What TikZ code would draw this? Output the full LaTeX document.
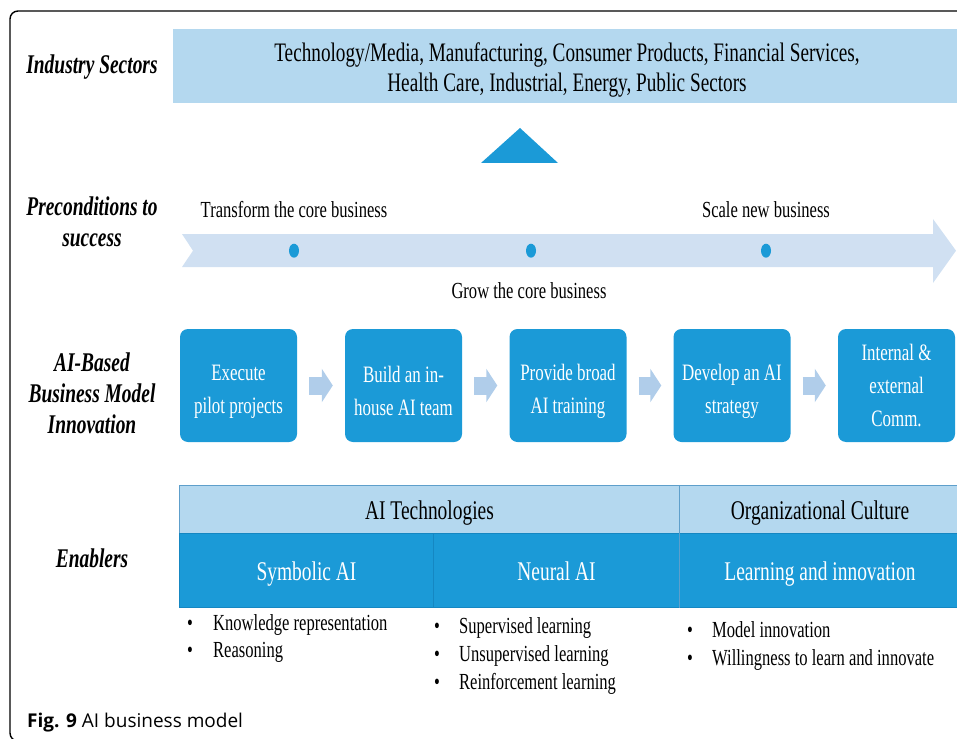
\documentclass[tikz,border=0pt]{standalone}
\usepackage{fontspec}
\newfontfamily\tms[FakeStretch=0.72]{Liberation Serif}
\newfontfamily\capfont{Open Sans}
\usetikzlibrary{arrows.meta}

\definecolor{bandblue}{HTML}{B4D8EF}
\definecolor{arrowblue}{HTML}{D0E0F2}
\definecolor{midblue}{HTML}{1B9AD7}
\definecolor{stepblue}{HTML}{B0CDEA}
\definecolor{lineblue}{HTML}{5E9FCB}
\definecolor{darkline}{HTML}{1587C2}

\tikzset{
  sidelabel/.style={font=\tms\bfseries\itshape\fontsize{27}{31}\selectfont, align=center, inner sep=0},
  sectorband/.style={fill=bandblue, minimum width=788, minimum height=74, inner sep=0,
    font=\tms\fontsize{26.7}{30}\selectfont, align=center},
  milestone/.style={font=\tms\fontsize{23}{28}\selectfont, inner sep=0},
  stepbox/.style={fill=midblue, rounded corners=8pt, minimum width=117, minimum height=113,
    text=white, font=\tms\fontsize{23.5}{33}\selectfont, align=center, inner sep=0},
  steparrow/.style={draw=stepblue, line width=18pt, shorten <=12pt, shorten >=12pt,
    -{Triangle[width=33pt,length=11pt]}},
  hdrcell/.style={fill=bandblue, draw=lineblue, line width=1pt, minimum height=48, inner sep=0,
    anchor=north west, font=\tms\fontsize{27}{30}\selectfont, text height=24pt, text depth=4pt},
  subcell/.style={fill=midblue, draw=darkline, line width=1pt, minimum height=74, inner sep=0,
    anchor=north west, text=white, font=\tms\fontsize{27}{30}\selectfont, text height=24pt, text depth=4pt},
  bulletitem/.style={anchor=west, inner sep=0, font=\tms\fontsize{23}{28}\selectfont,
    text height=16pt, text depth=6pt},
}
\newcommand{\lowerfirst}{\rule{0pt}{28pt}}

\begin{document}
\begin{tikzpicture}[x=1pt,y=-1pt]
\useasboundingbox (0,0) rectangle (957,738);
\clip (0,0) rectangle (957,738);

% frame
\draw[line width=1.4pt, rounded corners=8pt] (10,11) rectangle (990,741);

% left labels
\node[sidelabel] (lsec) at (92,67) {Industry Sectors};
\node[sidelabel] (lpre) at (92,222) {Preconditions to\\success};
\node[sidelabel] (lai)  at (92,393) {AI-Based\\Business Model\\Innovation};
\node[sidelabel] (len)  at (92,558) {Enablers};

% industry sectors band
\node[sectorband] (sectors) at (567,66) {\rule{0pt}{26pt}Technology/Media, Manufacturing, Consumer Products, Financial Services,\\Health Care, Industrial, Energy, Public Sectors};

% triangle
\fill[midblue] (481,163) -- (520,128) -- (558,163) -- cycle;

% progress arrow
\fill[arrowblue] (182,234) -- (933,234) -- (933,219) -- (956,250.7) -- (933,283) -- (933,267) -- (182,267) -- (193,250.7) -- cycle;
\fill[midblue] (294,250.7) ellipse [x radius=5, y radius=7];
\fill[midblue] (531,250.7) ellipse [x radius=5, y radius=7];
\fill[midblue] (766,250.7) ellipse [x radius=5, y radius=7];
\node[milestone] (m1) at (294,210) {Transform the core business};
\node[milestone] (m2) at (766,210) {Scale new business};
\node[milestone] (m3) at (529,291) {Grow the core business};

% steps
\node[stepbox] (b1) at (238.5,385.5) {\lowerfirst Execute\\pilot projects};
\node[stepbox] (b2) at (403.5,385.5) {\lowerfirst Build an in-\\house AI team};
\node[stepbox] (b3) at (568,385.5) {\lowerfirst Provide broad\\AI training};
\node[stepbox] (b4) at (732,385.5) {\lowerfirst Develop an AI\\strategy};
\node[stepbox] (b5) at (896.5,385.5) {Internal \&\\external\\Comm.};
\draw[steparrow] (b1) -- (b2);
\draw[steparrow] (b2) -- (b3);
\draw[steparrow] (b3) -- (b4);
\draw[steparrow] (b4) -- (b5);

% enablers table
\node[hdrcell, minimum width=500] (aitech) at (179,485) {AI Technologies};
\node[hdrcell, minimum width=281] (orgcul) at (679,485) {Organizational Culture};
\node[subcell, minimum width=254] (sym) at (179,533) {Symbolic AI};
\node[subcell, minimum width=246] (neu) at (433,533) {Neural AI};
\node[subcell, minimum width=281] (lrn) at (679,533) {Learning and innovation};
\draw[lineblue, line width=1pt] (orgcul.north west) -- (lrn.south west);

% bullet lists
\node[bulletitem] (s1) at (187,625) {\makebox[26pt][l]{\textbullet}Knowledge representation};
\node[bulletitem] (s2) at (187,652) {\makebox[26pt][l]{\textbullet}Reasoning};
\node[bulletitem] (n1) at (434,628) {\makebox[25pt][l]{\textbullet}Supervised learning};
\node[bulletitem] (n2) at (434,656) {\makebox[25pt][l]{\textbullet}Unsupervised learning};
\node[bulletitem] (n3) at (434,684) {\makebox[25pt][l]{\textbullet}Reinforcement learning};
\node[bulletitem] (o1) at (687,632) {\makebox[25pt][l]{\textbullet}Model innovation};
\node[bulletitem] (o2) at (687,660) {\makebox[25pt][l]{\textbullet}Willingness to learn and innovate};

% caption
\node[anchor=base west, inner sep=0, font=\capfont\fontsize{19}{22}\selectfont] (cap) at (27,727) {\textbf{Fig. 9} AI business model};
\end{tikzpicture}
\end{document}
